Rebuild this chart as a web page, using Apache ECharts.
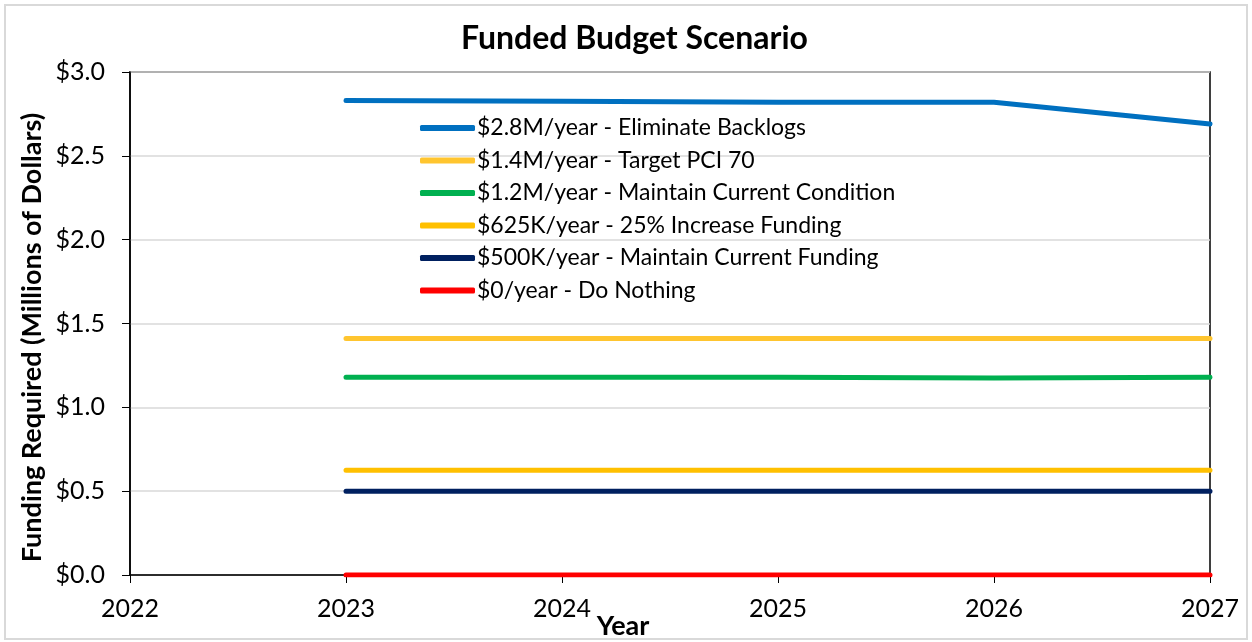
<!DOCTYPE html>
<html>
<head>
<meta charset="utf-8">
<script src="https://cdn.jsdelivr.net/npm/echarts@6/dist/echarts.min.js"></script>
<style>
html,body{margin:0;padding:0;background:#fff;}
#main{width:1252px;height:642px;}
</style>
</head>
<body>
<div id="main"></div>
<script>
// 数据
var years = [2023, 2024, 2025, 2026, 2027];
var seriesNames = [
    '$2.8M/year - Eliminate Backlogs',
    '$1.4M/year - Target PCI 70',
    '$1.2M/year - Maintain Current Condition',
    '$625K/year - 25% Increase Funding',
    '$500K/year - Maintain Current Funding',
    '$0/year - Do Nothing'
];
var eliminateBacklogs = [2.83, 2.825, 2.82, 2.82, 2.69];
var targetPci70 = [1.41, 1.41, 1.41, 1.41, 1.41];
var maintainCondition = [1.18, 1.18, 1.18, 1.175, 1.18];
var increaseFunding = [0.625, 0.625, 0.625, 0.625, 0.625];
var maintainFunding = [0.5, 0.5, 0.5, 0.5, 0.5];
var doNothing = [0, 0, 0, 0, 0];
var colors = ['#0070C0', '#FFC52F', '#00B050', '#FFC000', '#002060', '#FF0000'];

var font = 'Lato, "Open Sans", sans-serif';

function pairs(vals) {
    var d = [];
    for (let i = 0; i < years.length; i++) {
        d.push([years[i], vals[i]]);
    }
    return d;
}

var allData = [eliminateBacklogs, targetPci70, maintainCondition, increaseFunding, maintainFunding, doNothing];

var myChart = echarts.init(document.getElementById('main'));
var option = {
    backgroundColor: '#fff',
    textStyle: { fontFamily: font },
    title: {
        text: 'Funded Budget Scenario',
        left: 456,
        top: 18,
        textStyle: { fontFamily: font, fontSize: 32, fontWeight: 'bold', color: '#000' }
    },
    graphic: [{
        type: 'rect',
        shape: { x: 5, y: 5, width: 1242, height: 634 },
        style: { fill: 'none', stroke: '#d9d9d9', lineWidth: 2 },
        silent: true
    }],
    legend: {
        orient: 'vertical',
        left: 415,
        top: 110,
        icon: 'roundRect',
        itemWidth: 55,
        itemHeight: 6,
        itemGap: 6.5,
        textStyle: { fontFamily: font, fontSize: 23, color: '#000', lineHeight: 26, padding: [0, 0, 0, -3] },
        data: seriesNames
    },
    grid: {
        left: 130,
        right: 42,
        top: 72,
        bottom: 67,
        outerBoundsMode: 'none',
        containLabel: false,
        show: true,
        borderColor: '#000',
        borderWidth: 1.5
    },
    xAxis: {
        type: 'value',
        min: 2022,
        max: 2027,
        interval: 1,
        name: 'Year',
        nameLocation: 'middle',
        nameGap: 38,
        nameMoveOverlap: false,
        nameTextStyle: { fontFamily: font, fontSize: 27, fontWeight: 'bold', color: '#000', padding: [0, 94, 0, 0] },
        axisLine: { show: true, lineStyle: { color: '#000', width: 1.5 } },
        axisTick: { show: true, length: 8, lineStyle: { color: '#000' } },
        axisLabel: {
            fontFamily: font, fontSize: 25, color: '#000', margin: 21,
            formatter: function (v) { return String(v); }
        },
        splitLine: { show: false }
    },
    yAxis: {
        type: 'value',
        min: 0,
        max: 3,
        interval: 0.5,
        name: 'Funding Required (Millions of Dollars)',
        nameLocation: 'middle',
        nameGap: 84,
        nameMoveOverlap: false,
        nameTextStyle: { fontFamily: font, fontSize: 27, fontWeight: 'bold', color: '#000', padding: [0, 28, 0, 0] },
        axisLine: { show: true, lineStyle: { color: '#000', width: 1.5 } },
        axisTick: { show: true, length: 8, lineStyle: { color: '#000' } },
        axisLabel: {
            fontFamily: font, fontSize: 25, color: '#000', margin: 25,
            formatter: function (v) { return '$' + v.toFixed(1); }
        },
        splitLine: { show: true, lineStyle: { color: '#d9d9d9', width: 1.5 } }
    },
    series: []
};

for (let i = 0; i < seriesNames.length; i++) {
    option.series.push({
        name: seriesNames[i],
        type: 'line',
        data: pairs(allData[i]),
        showSymbol: false,
        symbol: 'none',
        color: colors[i],
        lineStyle: { color: colors[i], width: 5, cap: 'round' },
        itemStyle: { color: colors[i] },
        z: 10 - i
    });
}

myChart.setOption(option);
</script>
</body>
</html>
